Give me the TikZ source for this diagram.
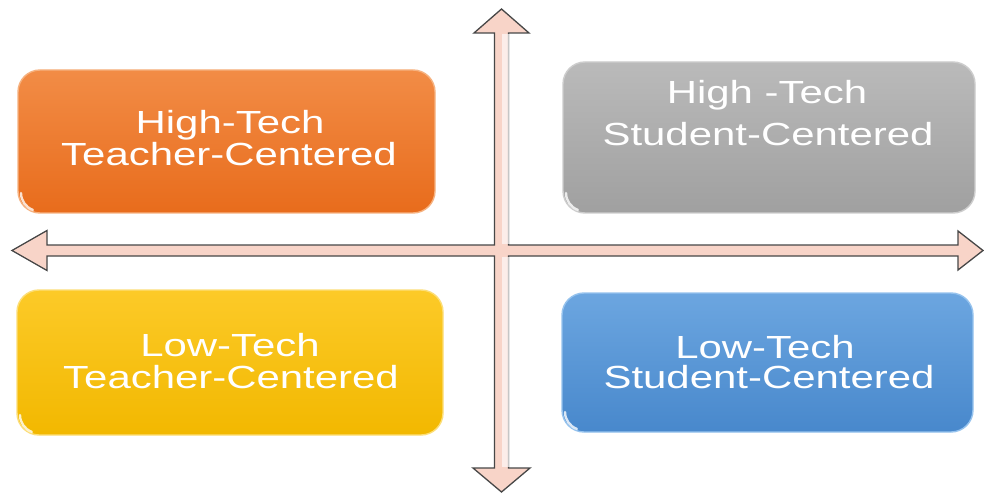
\documentclass[tikz,border=0pt]{standalone}
\usepackage{fontspec}
\setmainfont[FakeStretch=1.31]{Liberation Sans}
\begin{document}
\definecolor{crossfill}{HTML}{F8D4C8}
\definecolor{crossline}{HTML}{474747}
\begin{tikzpicture}[x=1pt,y=-1pt,
  quad/.style={rounded corners=22pt, line width=1.4pt},
  qlabel/.style={anchor=base, inner sep=0pt, text=white,
    font=\fontsize{32}{32}\selectfont},
  ]
\useasboundingbox (0,0) rectangle (984,494);
\fill[white] (0,0) rectangle (984,494);

% quadrant boxes
\path[quad, draw={rgb,255:red,246;green,178;blue,128},
  top color={rgb,255:red,242;green,140;blue,70},
  bottom color={rgb,255:red,232;green,108;blue,28}]
  (18,70) rectangle (435,213);
\path[quad, draw={rgb,255:red,205;green,205;blue,205},
  top color={rgb,255:red,186;green,186;blue,186},
  bottom color={rgb,255:red,160;green,160;blue,160}]
  (563,62) rectangle (975,213);
\path[quad, draw={rgb,255:red,252;green,222;blue,120},
  top color={rgb,255:red,252;green,202;blue,40},
  bottom color={rgb,255:red,242;green,184;blue,0}]
  (17,290) rectangle (443,435);
\path[quad, draw={rgb,255:red,150;green,195;blue,238},
  top color={rgb,255:red,108;green,166;blue,224},
  bottom color={rgb,255:red,72;green,136;blue,204}]
  (562,293) rectangle (973,432);

% glossy highlight in the lower left corners
\foreach \x/\y in {18/213, 563/213, 17/435, 562/432}
  \draw[white, opacity=0.8, line width=2.4pt, line cap=round]
    (\x+3,\y-20) arc[start angle=180, end angle=250, radius=18pt];

% axis cross with four arrow heads
\draw[fill=crossfill, draw=crossline, line width=1.3pt, line join=miter]
  (12,250.5) -- (47,230.5) -- (47,245) -- (494.5,245) -- (494.5,33)
  -- (474,33) -- (501.5,9) -- (529,33) -- (508.5,33) -- (508.5,245)
  -- (958,245) -- (958,231) -- (983,250.5) -- (958,270) -- (958,256)
  -- (508.5,256) -- (508.5,468) -- (530,468) -- (501.5,492) -- (473,468)
  -- (494.5,468) -- (494.5,256) -- (47,256) -- (47,270.5) -- cycle;
\fill[white, opacity=0.6] (501.5,34) rectangle (507.8,244.3);
\fill[white, opacity=0.6] (501.5,256.7) rectangle (507.8,467.3);
\draw[gray!45, line width=1.3pt] (508.5,33.7) -- (508.5,244.4);
\draw[gray!45, line width=1.3pt] (508.5,256.6) -- (508.5,467.3);

% labels
\node[qlabel] (ht1) at (230,134) {High-Tech};
\node[qlabel] (ht2) at (229,166) {Teacher-Centered};
\node[qlabel] (hs1) at (767,104) {High -Tech};
\node[qlabel] (hs2) at (768,146) {Student-Centered};
\node[qlabel] (lt1) at (230,356) {Low-Tech};
\node[qlabel] (lt2) at (231,388) {Teacher-Centered};
\node[qlabel] (ls1) at (765,358) {Low-Tech};
\node[qlabel] (ls2) at (769,388) {Student-Centered};
\end{tikzpicture}
\end{document}
